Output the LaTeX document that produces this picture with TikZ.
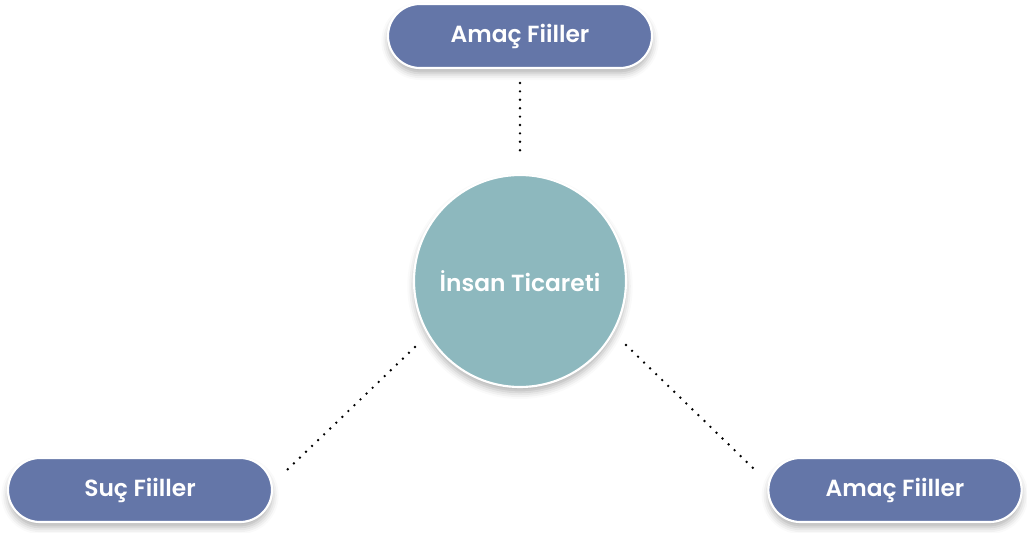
\documentclass[tikz,border=0pt]{standalone}
\usepackage{fontspec}
\setmainfont{Poppins}[BoldFont={Poppins SemiBold}]
\usetikzlibrary{shadows.blur}
\definecolor{verbblue}{RGB}{100,118,168}
\definecolor{hubteal}{RGB}{141,184,190}
\tikzstyle{verb_node} = [
    rounded corners=24pt,
    draw=white,
    line width=1.6pt,
    fill=verbblue,
    text=white,
    font=\fontsize{17.5}{20}\selectfont\bfseries,
    minimum width=198pt,
    minimum height=48pt,
    blur shadow={shadow xshift=0pt, shadow yshift=-4pt, shadow blur radius=5pt, shadow opacity=30}
]
\tikzstyle{hub_node} = [
    circle,
    draw=white,
    line width=1.6pt,
    fill=hubteal,
    text=white,
    font=\fontsize{17.5}{20}\selectfont\bfseries,
    minimum size=159pt,
    inner sep=0pt,
    blur shadow={shadow xshift=0pt, shadow yshift=-4pt, shadow blur radius=5pt, shadow opacity=30}
]
\tikzstyle{dots} = [
    line width=2pt,
    line cap=round,
    dash pattern=on 0pt off 6.3pt
]

\begin{document}
\begin{tikzpicture}[x=0.75pt, y=-0.75pt]
\useasboundingbox (0,0) rectangle (1027,532);
\node [hub_node] (hub) at (520,281) {İnsan Ticareti};
\node [verb_node] (amac_top) at (520,36) {Amaç Fiiller};
\node [verb_node] (suc) at (140,490) {Suç Fiiller};
\node [verb_node, minimum width=190pt] (amac_right) at (895,490) {Amaç Fiiller};
% dotted links
\coordinate (top_a) at (520,83);
\coordinate (top_b) at (520,158);
\coordinate (left_a) at (415,347);
\coordinate (left_b) at (287,470);
\coordinate (right_a) at (626,345);
\coordinate (right_b) at (755,470);
\draw [dots] (top_a) -- (top_b);
\draw [dots] (left_a) -- (left_b);
\draw [dots] (right_a) -- (right_b);
\end{tikzpicture}
\end{document}
